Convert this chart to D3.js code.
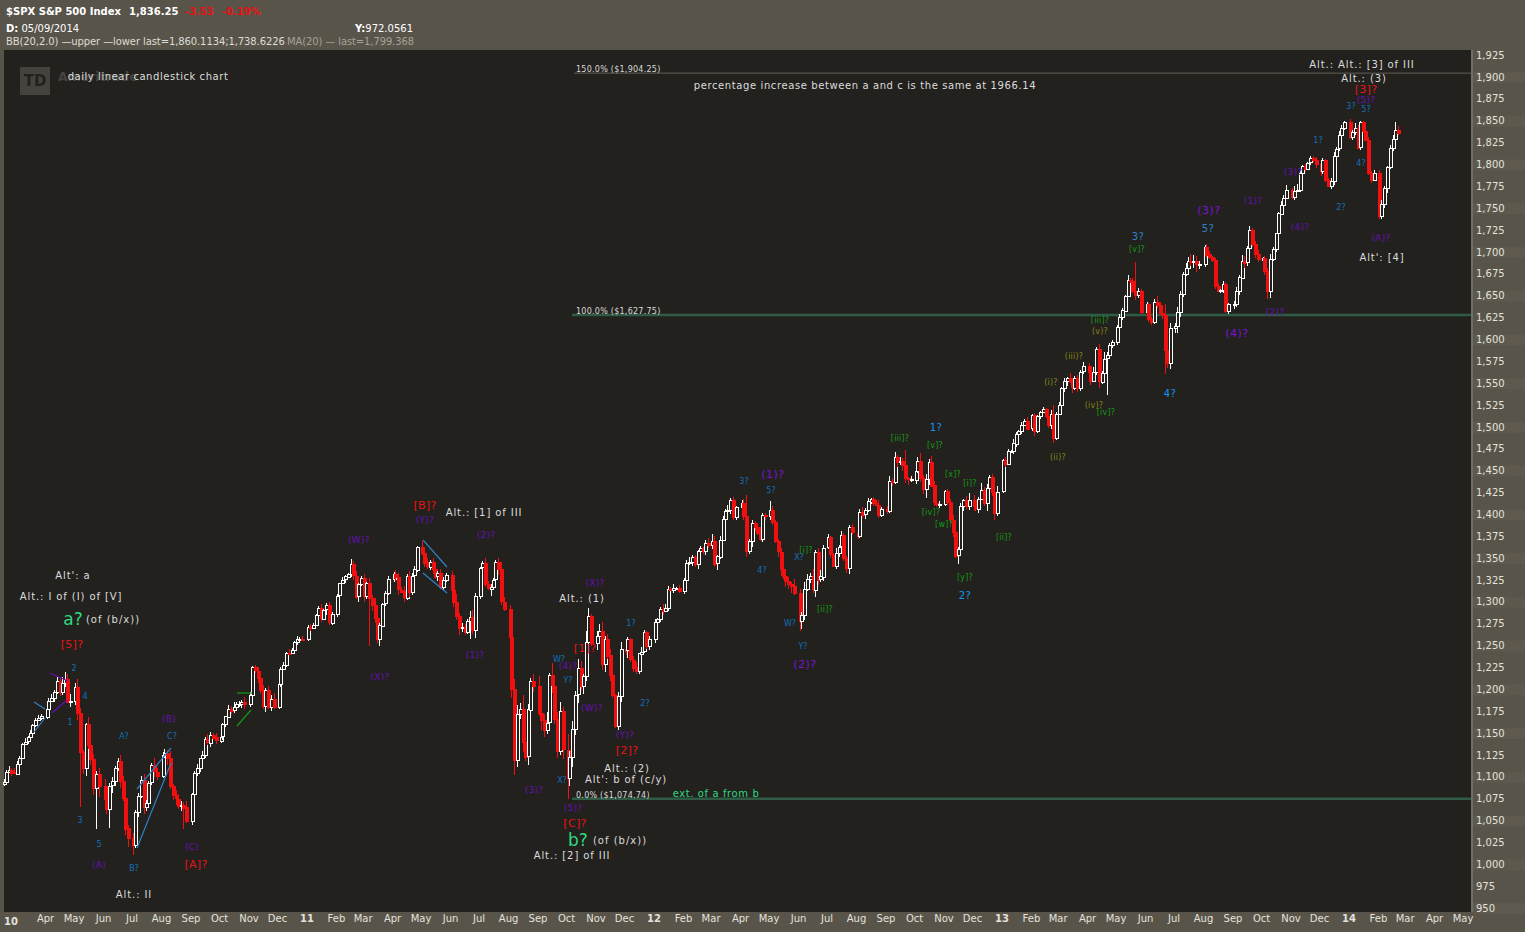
<!DOCTYPE html>
<html>
<head>
<meta charset="utf-8">
<script src="https://cdnjs.cloudflare.com/ajax/libs/d3/7.8.5/d3.min.js"></script>
<style>
  html, body { margin: 0; padding: 0; background: #58544a; }
  svg { display: block; }
  text { font-family: "DejaVu Sans", sans-serif; }
</style>
</head>
<body>
<div id="chart"></div>
<script>
// closes, ten per month (the 2010 list starts mid February, 2014 stops mid February)
const closes2010 = [
  1094, 1106, 1108, 1105, 1104,
  1115, 1122, 1138, 1140, 1145, 1150, 1159, 1165, 1167, 1169,
  1178, 1187, 1190, 1197, 1210, 1197, 1207, 1212, 1186, 1187,
  1203, 1173, 1128, 1110, 1160, 1136, 1120, 1087, 1103, 1089,
  1074, 1064, 1090, 1095, 1110, 1118, 1095, 1076, 1041, 1030,
  1022, 1060, 1078, 1096, 1065, 1070, 1093, 1113, 1106, 1101,
  1125, 1127, 1121, 1089, 1079, 1075, 1067, 1068, 1065, 1049,
  1080, 1104, 1110, 1121, 1125, 1143, 1139, 1148, 1145, 1141,
  1146, 1160, 1169, 1178, 1176, 1180, 1183, 1183, 1185, 1183,
  1193, 1225, 1221, 1213, 1199, 1181, 1199, 1180, 1189, 1180,
  1206, 1223, 1228, 1242, 1241, 1245, 1254, 1258, 1258, 1257
];
const closes2011 = [
  1271, 1270, 1274, 1285, 1293, 1281, 1291, 1296, 1276, 1286,
  1307, 1321, 1325, 1329, 1332, 1343, 1330, 1306, 1320, 1327,
  1306, 1321, 1304, 1296, 1281, 1257, 1273, 1298, 1310, 1326,
  1332, 1328, 1314, 1312, 1305, 1330, 1312, 1330, 1337, 1363,
  1356, 1345, 1340, 1346, 1338, 1329, 1333, 1317, 1325, 1331,
  1314, 1300, 1284, 1270, 1271, 1265, 1278, 1283, 1268, 1307,
  1339, 1344, 1320, 1315, 1317, 1325, 1345, 1337, 1300, 1292,
  1260, 1200, 1119, 1172, 1178, 1140, 1123, 1177, 1210, 1204,
  1173, 1165, 1154, 1162, 1216, 1204, 1166, 1129, 1175, 1131,
  1099, 1123, 1155, 1194, 1224, 1203, 1215, 1254, 1284, 1253,
  1261, 1267, 1229, 1258, 1239, 1216, 1193, 1158, 1192, 1246,
  1244, 1257, 1234, 1225, 1220, 1241, 1243, 1265, 1249, 1257
];
const closes2012 = [
  1277, 1280, 1292, 1290, 1293, 1315, 1314, 1316, 1316, 1312,
  1325, 1344, 1345, 1351, 1343, 1358, 1361, 1358, 1367, 1365,
  1370, 1344, 1352, 1371, 1395, 1404, 1405, 1416, 1397, 1408,
  1413, 1398, 1358, 1369, 1390, 1385, 1378, 1372, 1399, 1398,
  1405, 1391, 1369, 1357, 1338, 1330, 1324, 1320, 1318, 1310,
  1278, 1285, 1315, 1326, 1329, 1314, 1357, 1325, 1329, 1362,
  1374, 1354, 1341, 1356, 1363, 1376, 1350, 1338, 1385, 1379,
  1375, 1403, 1400, 1405, 1415, 1418, 1413, 1411, 1399, 1406,
  1404, 1438, 1437, 1466, 1460, 1461, 1456, 1441, 1440, 1440,
  1450, 1461, 1441, 1428, 1440, 1460, 1433, 1413, 1412, 1412,
  1427, 1414, 1394, 1380, 1353, 1360, 1409, 1416, 1409, 1416,
  1409, 1407, 1418, 1428, 1413, 1430, 1443, 1426, 1402, 1426
];
const closes2013 = [
  1462, 1457, 1472, 1472, 1481, 1492, 1495, 1502, 1507, 1498,
  1513, 1495, 1512, 1517, 1520, 1512, 1502, 1515, 1487, 1515,
  1525, 1544, 1552, 1556, 1552, 1545, 1556, 1545, 1563, 1569,
  1562, 1553, 1563, 1589, 1552, 1562, 1578, 1582, 1593, 1597,
  1614, 1625, 1633, 1650, 1668, 1667, 1655, 1650, 1655, 1631,
  1640, 1623, 1620, 1643, 1639, 1630, 1628, 1588, 1573, 1613,
  1615, 1631, 1652, 1675, 1682, 1690, 1689, 1690, 1686, 1686,
  1706, 1697, 1694, 1691, 1661, 1655, 1656, 1663, 1632, 1640,
  1640, 1655, 1671, 1690, 1688, 1704, 1725, 1709, 1697, 1691,
  1693, 1678, 1655, 1692, 1703, 1721, 1744, 1754, 1762, 1771,
  1763, 1770, 1771, 1790, 1798, 1795, 1802, 1807, 1805, 1800,
  1792, 1805, 1782, 1775, 1781, 1810, 1818, 1833, 1841, 1848
];
const closes2014 = [
  1831, 1837, 1842, 1819, 1848, 1838, 1828, 1790, 1782, 1790,
  1741, 1755, 1773, 1797, 1819, 1829, 1839, 1836
];

// short shadows in points above and below each body, read by eye
const upperShadows = [
  3, 2, 4, 2, 5,
  3, 2, 1, 4, 2, 3, 1, 2, 4, 3,
  2, 3, 5, 2, 4, 3, 7, 2, 5, 8,
  4, 9, 6, 3, 2, 8, 10, 6, 4, 7,
  9, 12, 3, 5, 2, 3, 7, 6, 8, 4,
  6, 2, 3, 5, 7, 4, 2, 3, 8, 4,
  3, 5, 4, 9, 3, 6, 5, 4, 3, 7,
  2, 3, 5, 1, 4, 2, 6, 3, 2, 5,
  3, 2, 1, 4, 3, 5, 2, 4, 3, 6,
  4, 2, 3, 4, 5, 6, 3, 5, 4, 7,
  1, 2, 3, 1, 4, 2, 1, 3, 2, 3,
  3, 4, 2, 1, 2, 5, 1, 3, 4, 2,
  2, 1, 3, 2, 1, 6, 4, 5, 2, 3,
  5, 2, 6, 4, 8, 2, 3, 1, 2, 3,
  2, 4, 5, 3, 6, 2, 5, 3, 4, 1,
  6, 3, 5, 2, 4, 3, 2, 5, 3, 2,
  4, 7, 9, 3, 5, 4, 2, 6, 8, 3,
  1, 3, 6, 4, 3, 2, 3, 5, 9, 5,
  4, 8, 12, 10, 6, 15, 9, 6, 3, 7,
  11, 9, 7, 12, 3, 14, 6, 8, 10, 5,
  18, 6, 9, 4, 11, 8, 3, 13, 7, 2,
  6, 8, 10, 3, 5, 7, 4, 2, 5, 8,
  9, 3, 2, 4, 6, 1, 5, 3, 2, 4,
  3, 1, 2, 5, 4, 3, 2, 4, 1, 3,
  2, 4, 6, 3, 2, 1, 3, 2, 4, 6,
  7, 5, 2, 4, 3, 2, 6, 3, 4, 1,
  3, 4, 6, 3, 4, 2, 5, 7, 2, 3,
  6, 5, 2, 3, 4, 6, 5, 4, 3, 8,
  5, 3, 8, 6, 4, 9, 2, 4, 7, 3,
  3, 1, 2, 6, 2, 5, 3, 2, 3, 4,
  2, 3, 5, 2, 4, 1, 2, 3, 5, 2,
  4, 6, 3, 5, 2, 4, 3, 5, 2, 4,
  3, 5, 6, 4, 6, 3, 7, 5, 6, 3,
  1, 2, 3, 5, 6, 3, 4, 2, 5, 8,
  6, 4, 2, 8, 3, 5, 2, 3, 4, 6,
  1, 4, 3, 2, 5, 2, 1, 3, 2, 4,
  2, 3, 2, 1, 3, 2, 1, 4, 3, 2,
  3, 2, 4, 1, 5, 3, 2, 3, 2, 5,
  4, 3, 5, 2, 6, 2, 7, 4, 3, 2,
  2, 4, 3, 1, 5, 2, 3, 2, 4, 3,
  3, 1, 2, 3, 6, 4, 9, 12, 5, 6,
  4, 6, 3, 2, 5, 4, 8, 6, 5, 3,
  2, 3, 4, 1, 2, 3, 2, 4, 3, 2,
  4, 5, 3, 6, 5, 3, 4, 2, 3, 5,
  1, 2, 3, 5, 2, 1, 2, 4, 3, 5,
  2, 5, 6, 3, 1, 2, 1, 3, 2, 3,
  3, 2, 1, 2, 3, 4, 2, 5, 4, 2,
  4, 2, 5, 3, 2, 1, 2, 3, 2, 3,
  3, 4, 2, 1, 3, 4, 3, 5, 4, 7,
  5, 3, 2, 1, 3, 4, 2, 3, 6, 4,
  3, 4, 5, 2, 3, 2, 3, 1, 2, 3,
  7, 3, 2, 4, 3, 2, 3, 6, 4, 2,
  4, 5, 6, 4, 3, 1, 6, 2
];
const lowerShadows = [
  2, 3, 2, 4, 1,
  2, 3, 2, 1, 3, 2, 3, 2, 1, 2,
  3, 2, 1, 4, 2, 5, 3, 4, 2, 6,
  5, 8, 10, 7, 9, 4, 6, 8, 5, 12,
  8, 6, 4, 9, 5, 3, 8, 4, 7, 10,
  5, 3, 6, 2, 8, 4, 5, 2, 6, 5,
  2, 4, 8, 3, 5, 7, 4, 6, 3, 2,
  4, 2, 3, 5, 2, 4, 3, 5, 2, 3,
  2, 4, 3, 2, 4, 3, 2, 3, 4, 5,
  3, 5, 2, 6, 4, 3, 7, 3, 5, 2,
  2, 3, 1, 3, 2, 1, 2, 3, 1, 2,
  2, 3, 1, 2, 3, 4, 2, 6, 2, 3,
  3, 2, 1, 3, 2, 4, 5, 3, 6, 2,
  6, 3, 8, 6, 5, 4, 7, 2, 3, 2,
  3, 4, 6, 2, 5, 3, 7, 4, 2, 3,
  2, 5, 3, 4, 6, 3, 5, 2, 3, 2,
  3, 6, 5, 8, 4, 3, 2, 7, 5, 9,
  4, 5, 3, 2, 8, 3, 2, 6, 4, 3,
  6, 10, 9, 8, 6, 12, 5, 9, 4, 7,
  4, 12, 9, 5, 10, 8, 6, 7, 4, 11,
  5, 9, 12, 7, 10, 4, 8, 5, 9, 3,
  8, 5, 7, 9, 4, 6, 3, 2, 5, 6,
  5, 8, 3, 5, 2, 3, 1, 2, 3, 4,
  4, 2, 3, 5, 2, 3, 2, 4, 3, 2,
  3, 6, 2, 4, 3, 5, 1, 3, 5, 4,
  5, 4, 8, 3, 2, 6, 9, 5, 3, 4,
  4, 5, 7, 3, 6, 4, 2, 3, 4, 5,
  5, 3, 2, 6, 9, 4, 7, 5, 8, 2,
  4, 9, 6, 3, 5, 4, 8, 6, 2, 5,
  2, 4, 1, 3, 5, 2, 3, 5, 6, 3,
  3, 2, 4, 5, 2, 3, 4, 2, 3, 2,
  4, 3, 5, 2, 6, 4, 7, 5, 6, 3,
  5, 3, 4, 5, 9, 6, 2, 3, 4, 5,
  2, 3, 4, 6, 3, 2, 4, 5, 3, 4,
  5, 3, 6, 2, 4, 9, 3, 5, 8, 2,
  2, 3, 1, 2, 3, 4, 2, 3, 1, 2,
  3, 5, 2, 3, 1, 2, 3, 4, 6, 2,
  2, 3, 4, 5, 2, 6, 3, 5, 4, 3,
  3, 5, 2, 4, 8, 3, 2, 4, 5, 3,
  4, 2, 3, 2, 1, 3, 2, 5, 3, 2,
  2, 3, 4, 2, 3, 1, 5, 8, 6, 7,
  6, 8, 5, 4, 3, 6, 5, 7, 9, 6,
  3, 4, 2, 3, 4, 1, 2, 3, 2, 3,
  5, 3, 4, 2, 6, 4, 5, 3, 4, 3,
  2, 4, 3, 8, 2, 3, 1, 2, 3, 2,
  3, 4, 2, 3, 5, 4, 2, 3, 2, 4,
  5, 3, 2, 1, 3, 5, 4, 3, 5, 2,
  2, 3, 4, 2, 3, 2, 1, 2, 3, 1,
  4, 2, 5, 6, 2, 4, 9, 3, 6, 2,
  5, 2, 4, 3, 2, 1, 4, 3, 2, 6,
  2, 3, 4, 3, 1, 2, 3, 4, 2, 3,
  5, 4, 6, 2, 5, 3, 2, 6, 4, 8,
  3, 2, 4, 3, 2, 4, 5, 3
];

// long shadows: candle number, high, low (0 = leave as it is)
const wickIndex = [22, 27, 33, 37, 45, 63, 87, 127, 162, 177, 195, 203, 212, 257, 265, 275, 312, 317, 330, 344, 363, 382, 392, 402, 437, 464, 476, 481];
const wickHigh  = [1220, 1178, 0, 0, 0, 0, 1228, 0, 0, 1200, 0, 1293, 0, 1422, 1415, 0, 1474, 1470, 0, 0, 1525, 0, 1688, 0, 0, 1849, 0, 1848];
const wickLow   = [0, 1065, 1040, 1042, 1011, 1040, 0, 1249, 1258, 1102, 1075, 0, 1158, 0, 0, 1267, 0, 0, 1343, 1398, 1485, 1536, 0, 1560, 1646, 0, 1738, 0];

const priceTicks = d3.range(950, 1926, 25);
const fibPrices = [1904.25, 1627.75, 1074.74];
const fibLabels = ["150.0%  ($1,904.25)", "100.0%  ($1,627.75)", "0.0%  ($1,074.74)"];

const colors = {
  w: "#dcdcdc", m: "#2fd880", r: "#e81212", p: "#6510b4", q: "#7a12d8", b: "#1070bc",
  c: "#1294f0", g: "#149a14", o: "#84841a", s: "#2e80c6"
};

// wave count labels: text, colour key, centre x, centre y, font size, letter spacing
const waveLabels = [
  ["daily linear candlestick chart", "w", 148, 76, 10, 0.55],
  ["percentage increase between a and c is the same at 1966.14", "w", 865, 85, 10, 0.6],
  ["Alt.: Alt.: [3] of III", "w", 1362, 64, 10, 0.9],
  ["Alt.: (3)", "w", 1364, 78, 10, 0.9],
  ["Alt': [4]", "w", 1382, 257, 10, 0.9],
  ["Alt.: [1] of III", "w", 484, 512, 10, 0.9],
  ["Alt': a", "w", 73, 575, 10, 0.9],
  ["Alt.: I of (I) of [V]", "w", 71, 596, 10, 0.9],
  ["(of (b/x))", "w", 113, 619, 10, 1],
  ["Alt.: II", "w", 134, 894, 10, 0.9],
  ["Alt.: (1)", "w", 582, 598, 10, 0.9],
  ["Alt.: (2)", "w", 627, 768, 10, 0.9],
  ["Alt': b of (c/y)", "w", 626, 779, 10, 0.9],
  ["(of (b/x))", "w", 620, 840, 10, 1],
  ["Alt.: [2] of III", "w", 572, 855, 10, 0.9],
  ["a?", "m", 73, 619, 17, 0],
  ["b?", "m", 578, 840, 17, 0],
  ["ext. of a from b", "m", 716, 793, 10, 0.6],
  ["[5]?", "r", 72, 644, 11, 0.3],
  ["[A]?", "r", 196, 864, 11, 0.3],
  ["[B]?", "r", 425, 505, 11, 0.3],
  ["[1]?", "r", 585, 648, 11, 0.3],
  ["[2]?", "r", 627, 750, 11, 0.3],
  ["[C]?", "r", 575, 823, 11, 0.3],
  ["[3]?", "r", 1366, 89, 11, 0.3],
  ["(A)", "p", 99, 865, 9, 0.3],
  ["(C)", "p", 192, 847, 9, 0.3],
  ["(B)", "p", 169, 719, 9, 0.3],
  ["(W)?", "p", 359, 540, 9, 0.3],
  ["(Y)?", "p", 425, 520, 9, 0.3],
  ["(X)?", "p", 380, 677, 9, 0.3],
  ["(2)?", "p", 486, 535, 9, 0.3],
  ["(1)?", "p", 475, 655, 9, 0.3],
  ["(X)?", "p", 595, 583, 9, 0.3],
  ["(4)?", "p", 568, 666, 9, 0.3],
  ["(W)?", "p", 592, 708, 9, 0.3],
  ["(Y)?", "p", 625, 735, 9, 0.3],
  ["(3)?", "p", 534, 790, 9, 0.3],
  ["(5)?", "p", 573, 808, 9, 0.3],
  ["(1)?", "q", 773, 474, 11, 0.5],
  ["(2)?", "q", 805, 664, 11, 0.5],
  ["(3)?", "q", 1209, 210, 11, 0.5],
  ["(4)?", "q", 1237, 333, 11, 0.5],
  ["(1)?", "p", 1253, 201, 9, 0.3],
  ["(2)?", "p", 1275, 312, 9, 0.3],
  ["(3)?", "p", 1293, 172, 9, 0.3],
  ["(4)?", "p", 1300, 227, 9, 0.3],
  ["(5)?", "p", 1366, 100, 9, 0.3],
  ["(A)?", "p", 1381, 238, 9, 0.3],
  ["2", "b", 74, 668, 8, 0],
  ["4", "b", 85, 696, 8, 0],
  ["1", "b", 70, 722, 8, 0],
  ["3", "b", 80, 820, 8, 0],
  ["5", "b", 99, 844, 8, 0],
  ["A?", "b", 124, 736, 8, 0],
  ["B?", "b", 134, 868, 8, 0],
  ["C?", "b", 172, 736, 8, 0],
  ["W?", "b", 559, 659, 8, 0],
  ["Y?", "b", 568, 680, 8, 0],
  ["X?", "b", 562, 780, 8, 0],
  ["1?", "b", 631, 623, 8, 0],
  ["2?", "b", 645, 703, 8, 0],
  ["3?", "b", 744, 481, 8, 0],
  ["5?", "b", 771, 490, 8, 0],
  ["4?", "b", 762, 570, 8, 0],
  ["X?", "b", 799, 557, 8, 0],
  ["W?", "b", 790, 623, 8, 0],
  ["Y?", "b", 803, 646, 8, 0],
  ["1?", "b", 1318, 140, 8, 0],
  ["3?", "b", 1351, 106, 8, 0],
  ["5?", "b", 1366, 109, 8, 0],
  ["4?", "b", 1361, 163, 8, 0],
  ["2?", "b", 1341, 207, 8, 0],
  ["1?", "c", 936, 427, 10, 0.5],
  ["2?", "c", 965, 595, 10, 0.5],
  ["3?", "s", 1138, 236, 10, 0.5],
  ["5?", "s", 1208, 228, 10, 0.5],
  ["4?", "c", 1170, 393, 10, 0.5],
  ["[iii]?", "g", 900, 438, 8, 0.2],
  ["[v]?", "g", 935, 445, 8, 0.2],
  ["[iv]?", "g", 931, 512, 8, 0.2],
  ["[x]?", "g", 953, 474, 8, 0.2],
  ["[i]?", "g", 970, 483, 8, 0.2],
  ["[w]?", "g", 944, 524, 8, 0.2],
  ["[ii]?", "g", 1004, 537, 8, 0.2],
  ["[y]?", "g", 965, 577, 8, 0.2],
  ["[i]?", "g", 806, 550, 8, 0.2],
  ["[ii]?", "g", 825, 609, 8, 0.2],
  ["[v]?", "g", 1137, 249, 8, 0.2],
  ["[iii]?", "g", 1100, 320, 8, 0.2],
  ["[iv]?", "g", 1106, 412, 8, 0.2],
  ["(i)?", "o", 1051, 382, 8, 0.2],
  ["(iii)?", "o", 1074, 356, 8, 0.2],
  ["(v)?", "o", 1100, 331, 8, 0.2],
  ["(iv)?", "o", 1094, 405, 8, 0.2],
  ["(ii)?", "o", 1058, 457, 8, 0.2]
];

// hand drawn trend lines on the picture
const trendLines = [
  ["s", 34, 702, 45, 709], ["s", 34, 732, 45, 718],
  ["p", 50, 673, 68, 681], ["p", 52, 713, 67, 700],
  ["s", 137, 789, 171, 748], ["s", 137, 848, 171, 763],
  ["g", 237, 693, 252, 693], ["g", 237, 726, 251, 710],
  ["s", 423, 540, 447, 567], ["s", 423, 573, 447, 593]
];

const width = 1525, height = 932;
const plot = { left: 4, top: 50, right: 1471, bottom: 912 };

const closes = [...closes2010, ...closes2011, ...closes2012, ...closes2013, ...closes2014];

const candleDate = (i) => new Date(2010, 1 + Math.floor((i + 5) / 10), 1 + ((i + 5) % 10) * 2.8);

const x = d3.scaleTime()
  .domain([new Date(2011, 0, 1), new Date(2014, 0, 1)])
  .range([308, 1350]);
const y = d3.scaleLinear().domain([950, 1925]).range([908, 55]);

const candles = closes.map((close, i) => {
  const open = i ? closes[i - 1] : 1092;
  const w = wickIndex.indexOf(i);
  const top = Math.max(open, close);
  const bottom = Math.min(open, close);
  return {
    date: candleDate(i),
    open,
    close,
    high: Math.max(top + (upperShadows[i] || 0), w >= 0 ? wickHigh[w] : 0),
    low: Math.min(bottom - (lowerShadows[i] || 0), w >= 0 && wickLow[w] ? wickLow[w] : 9999)
  };
});

const svg = d3.select("#chart").append("svg")
  .attr("width", width)
  .attr("height", height)
  .attr("viewBox", `0 0 ${width} ${height}`);

// frame and plot area
svg.append("rect").attr("width", width).attr("height", height).attr("fill", "#58544a");
svg.append("rect")
  .attr("x", plot.left).attr("y", plot.top)
  .attr("width", plot.right - plot.left).attr("height", plot.bottom - plot.top)
  .attr("fill", "#23211e");
svg.append("line")
  .attr("x1", plot.right + 1).attr("x2", plot.right + 1)
  .attr("y1", plot.top).attr("y2", plot.bottom)
  .attr("stroke", "#8a877e");

// faint bands behind the price labels
svg.append("g").selectAll("rect")
  .data(priceTicks.filter((d, i) => i % 2 === 0))
  .join("rect")
  .attr("x", plot.right + 2)
  .attr("y", (d) => y(d) - 5)
  .attr("width", width - plot.right)
  .attr("height", 11)
  .attr("fill", "#5d594f");

// watermark
const mark = svg.append("g");
mark.append("rect").attr("x", 20).attr("y", 67).attr("width", 30).attr("height", 28).attr("fill", "#45433e");
mark.append("text").attr("x", 35).attr("y", 86).attr("text-anchor", "middle")
  .attr("font-size", 15).attr("font-weight", 700).attr("fill", "#23211e").text("TD");
mark.append("text").attr("x", 58).attr("y", 81)
  .attr("font-size", 12.5).attr("font-weight", 700).attr("fill", "#45433f").text("Ameritrade");

// fibonacci levels
const fib = svg.append("g");
fib.selectAll("line")
  .data(fibPrices)
  .join("line")
  .attr("x1", (d, i) => (i === 0 ? 574 : 572))
  .attr("x2", plot.right)
  .attr("y1", (d) => y(d))
  .attr("y2", (d) => y(d))
  .attr("stroke", (d, i) => (i === 0 ? "#5f5f58" : "#2f5c45"))
  .attr("stroke-width", (d, i) => (i === 0 ? 1 : 2.5));
fib.selectAll("text")
  .data(fibLabels)
  .join("text")
  .attr("x", 576)
  .attr("y", (d, i) => y(fibPrices[i]) - 1)
  .attr("font-size", 8)
  .attr("letter-spacing", 0.25)
  .attr("fill", "#d8d8d8")
  .text((d) => d);

// candles, crisp so the hollow ones stay white
const candle = svg.append("g")
  .attr("shape-rendering", "crispEdges")
  .selectAll("g")
  .data(candles)
  .join("g")
  .attr("transform", (d) => `translate(${Math.round(x(d.date)) - 1},0)`);

candle.append("line")
  .attr("x1", 1.5).attr("x2", 1.5)
  .attr("y1", (d) => Math.round(y(d.high)))
  .attr("y2", (d) => Math.round(y(d.low)))
  .attr("stroke", (d) => (d.close < d.open ? "#f01010" : "#ffffff"));

candle.append("rect")
  .attr("x", 0.5)
  .attr("width", 3)
  .attr("y", (d) => Math.round(y(Math.max(d.open, d.close))) + 0.5)
  .attr("height", (d) => Math.max(1, Math.round(Math.abs(y(d.open) - y(d.close)))))
  .attr("fill", (d) => (d.close < d.open ? "#f01010" : "#23211e"))
  .attr("stroke", (d) => (d.close < d.open ? "#f01010" : "#ffffff"))
  .attr("stroke-width", 1);

// trend lines
svg.append("g").selectAll("line")
  .data(trendLines)
  .join("line")
  .attr("x1", (d) => d[1]).attr("y1", (d) => d[2])
  .attr("x2", (d) => d[3]).attr("y2", (d) => d[4])
  .attr("stroke", (d) => colors[d[0]])
  .attr("stroke-width", 1.2);

// wave labels
svg.append("g").selectAll("text")
  .data(waveLabels)
  .join("text")
  .attr("x", (d) => d[2])
  .attr("y", (d) => d[3])
  .attr("dy", "0.35em")
  .attr("text-anchor", "middle")
  .attr("font-size", (d) => d[4])
  .attr("letter-spacing", (d) => d[5])
  .attr("fill", (d) => colors[d[1]])
  .text((d) => d[0]);

// price axis
const yAxis = d3.axisRight(y)
  .tickValues(priceTicks)
  .tickSize(0)
  .tickPadding(5)
  .tickFormat(d3.format(","));
const yg = svg.append("g")
  .attr("transform", `translate(${plot.right},0)`)
  .call(yAxis);
yg.select(".domain").remove();
yg.selectAll("text").attr("font-size", 10).attr("fill", "#e4e2da").attr("font-family", '"DejaVu Sans", sans-serif');

// time axis
const monthTicks = d3.timeMonth.range(new Date(2010, 3, 1), new Date(2014, 5, 1));
const monthFormat = d3.timeFormat("%b");
const yearFormat = d3.timeFormat("%y");
const xAxis = d3.axisBottom(x)
  .tickValues(monthTicks)
  .tickSize(0)
  .tickPadding(3)
  .tickFormat((d) => (d.getMonth() === 0 ? yearFormat(d) : monthFormat(d)));
const xg = svg.append("g")
  .attr("transform", `translate(-1.5,${plot.bottom})`)
  .call(xAxis);
xg.select(".domain").remove();
xg.selectAll("text")
  .attr("font-size", 10)
  .attr("fill", "#e4e2da")
  .attr("font-family", '"DejaVu Sans", sans-serif')
  .attr("font-weight", (d) => (d.getMonth() === 0 ? 700 : 400));
svg.append("text")
  .attr("x", 4).attr("y", 925)
  .attr("font-size", 10).attr("font-weight", 700).attr("fill", "#e4e2da")
  .text("10");

// header
const header = svg.append("g").attr("font-size", 10);
header.append("text").attr("x", 6).attr("y", 15).attr("font-weight", 700).attr("fill", "#ffffff").text("$SPX S&P 500 Index");
header.append("text").attr("x", 129).attr("y", 15).attr("font-weight", 700).attr("fill", "#ffffff").text("1,836.25");
header.append("text").attr("x", 185).attr("y", 15).attr("font-weight", 700).attr("fill", "#e81212").text("-3.53");
header.append("text").attr("x", 222).attr("y", 15).attr("font-weight", 700).attr("fill", "#e81212").text("-0.19%");
header.append("text").attr("x", 6).attr("y", 32).attr("fill", "#ffffff")
  .html('<tspan font-weight="700">D:</tspan> 05/09/2014');
header.append("text").attr("x", 413).attr("y", 32).attr("text-anchor", "end").attr("fill", "#ffffff")
  .html('<tspan font-weight="700">Y:</tspan>972.0561');
header.append("text").attr("x", 6).attr("y", 45).attr("letter-spacing", -0.1).attr("fill", "#dedcd4").text("BB(20,2.0) \u2014upper \u2014lower last=1,860.1134;1,738.6226");
header.append("text").attr("x", 287).attr("y", 45).attr("letter-spacing", -0.12).attr("fill", "#a5a297").text("MA(20) \u2014 last=1,799.368");
</script>
</body>
</html>
